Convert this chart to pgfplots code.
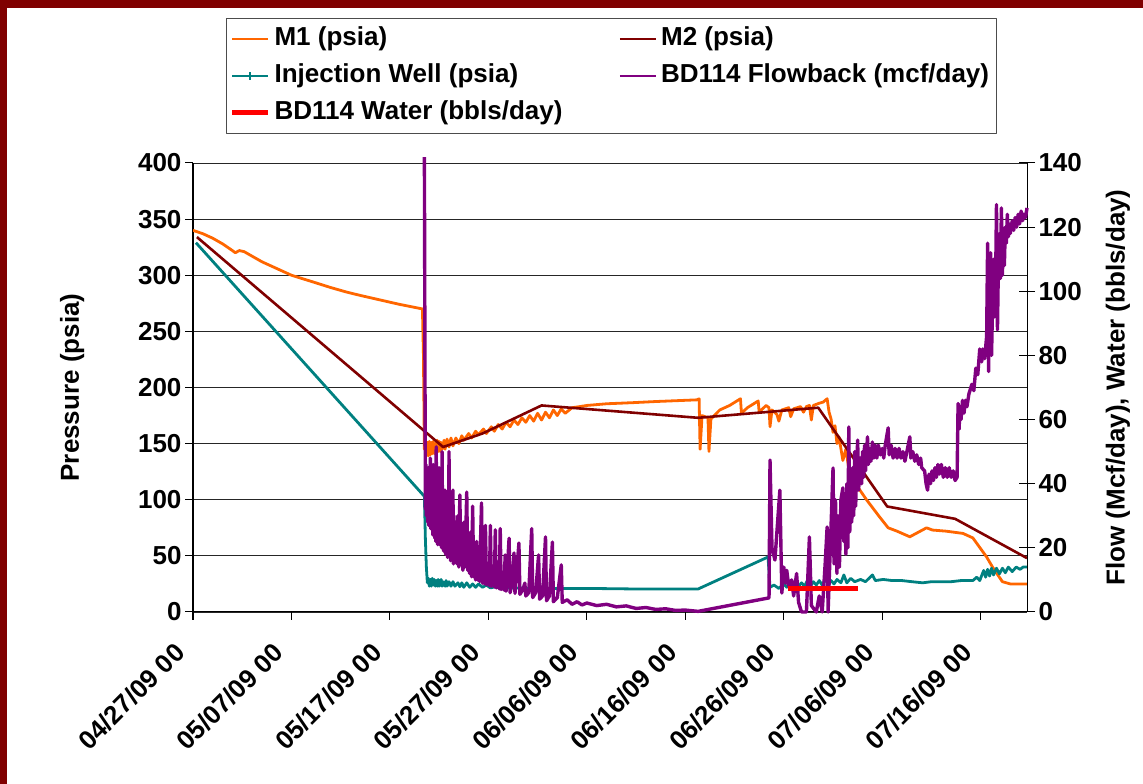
\documentclass[border=0pt]{standalone}
\usepackage{pgfplots}
\pgfplotsset{compat=1.18}
\usepackage{fontspec}
\setmainfont{Liberation Sans}
\definecolor{frameRed}{HTML}{800000}
\definecolor{cM1}{HTML}{FF6600}
\definecolor{cM2}{HTML}{800000}
\definecolor{cInj}{HTML}{008080}
\definecolor{cFlow}{HTML}{800080}
\definecolor{cWater}{HTML}{FF0000}
\newcommand{\bigbf}{\fontsize{26}{30}\selectfont\bfseries}
\begin{document}
\begin{tikzpicture}
\path[use as bounding box] (0,0) rectangle (1143pt,784pt);
\fill[frameRed] (0,776pt) rectangle (1143pt,784pt);
\fill[frameRed] (0,0) rectangle (7pt,784pt);
\pgfplotsset{
  common/.style={
    scale only axis, width=834pt, height=449pt,
    at={(193pt,172pt)}, anchor=south west,
    xmin=0, xmax=84.7,
    tick label style={font=\bigbf},
    /pgf/number format/assume math mode=true,
    axis line style={black, line width=1pt},
    major tick style={black, line width=1pt},
  }
}
\begin{axis}[common,
  ymin=0, ymax=400, ytick={0,50,...,400},
  axis x line*=bottom, axis y line*=left,
  tick align=outside, major tick length=8pt,
  xtick={0,10,...,80},
  xticklabels={04/27/09 00,05/07/09 00,05/17/09 00,05/27/09 00,06/06/09 00,06/16/09 00,06/26/09 00,07/06/09 00,07/16/09 00},
  xticklabel style={xshift=-13pt, yshift=-28pt, anchor=east, rotate=45, inner sep=0pt},
  ymajorgrids, grid style={black!85, line width=0.9pt},
  ylabel={Pressure (psia)},
  every axis y label/.style={at={(axis description cs:-0.145,0.5)}, rotate=90, anchor=center, font=\bigbf},
  line join=round,
]
% M1
\addplot[cM1, line width=2.8pt] coordinates {
(0,340)(1,337)(2,333)(3,328)(4,322)(4.3,320)(4.7,322)(5.2,321)(6,317)(7,312)(8.5,306)(10,300)(12.2,294)(14,289)(15.6,285)(17,282)(19,278)(21,274)(23.3,270)(23.4,230)(23.5,145)
(23.6,152)(23.7,140)(23.8,151)(23.9,139)(24.0,152)(24.1,140)(24.2,151)(24.3,141)(24.4,152)(24.5,141)(24.6,150)(24.7,142)(24.8,153)(24.9,143)(25.0,152)(25.1,143)(25.2,151)(25.3,145)(25.5,153)(25.6,145)(25.8,154)(26,147)(26.2,155)(26.4,148)(26.7,155)(27,150)
(27.3,157)(27.5,153)(28,159)(28.3,155)(28.7,161)(29,158)(29.5,163)(29.8,159)(30.3,165)(30.6,161)(31,167)(31.4,163)(31.8,169)(32.2,165)(32.6,171)(33,167)(33.4,173)(33.8,169)(34.2,175)(34.6,170)(35,177)(35.4,171)(35.8,178)(36.2,173)(36.6,180)(37,175)(37.4,181)(37.8,177)(38.5,182)(39.3,183)(40,184)(42,185.5)(44.7,186.5)(47,187.5)
(51.2,189)(51.4,190)(51.5,145)(51.7,175)(52.3,173)(52.4,143)(52.6,172)(53.5,180)(54.5,184)(55.6,190)(55.7,177)(56.3,182)(57.4,188)(57.5,178)(58.2,184)(58.5,182)(58.6,165)(58.8,180)(59.3,176)(59.5,170)(59.8,180)(60.5,182)(60.7,174)(61,181)(61.7,183)(62,178)(62.3,183)(62.6,184)(62.8,171)(63,184)(63.6,186)(64,187)(64.4,190)(64.6,178)(64.8,172)(65.0,160)(65.2,166)(65.4,150)(65.6,156)(66,135)(66.3,145)(66.6,128)(67,118)(68.4,100)(69.7,85)(70.6,75)(71.5,72)(72.8,67)(74.5,75)(75.1,73)(76.5,72)(78.2,70)(79.2,66)(80.6,49)(81.2,40)(82.2,27)(83,25)(84.7,25)
};
% M2
\addplot[cM2, line width=2.6pt] coordinates {
(0.4,334)(25.4,147)(29.4,159)(35.4,184)(51.3,173)(63.5,182)(70.5,94)(77.4,83)(84.7,48)
};
% Injection well
\addplot[cInj, line width=2.8pt] coordinates {
(0.3,329)(23.5,103)(23.6,65)(23.7,40)(23.8,26)(23.9,30)(24,23)(24.1,29)(24.2,23)(24.3,30)(24.4,24)(24.5,29)(24.6,23)(24.7,28)(24.8,23)(24.9,29)(25,23)(25.2,29)(25.3,23)(25.4,27)(25.6,23)(25.7,28)(25.8,23)(26,27)(26.2,23)(26.4,27)(26.6,23)(26.9,26)(27.1,22.5)(27.3,26)(27.5,22)(27.8,26)(28.1,22)(28.4,25)(28.7,22)(29,25)(29.4,22)(29.8,24)(30.2,21.5)(31,23)(32,21.5)(35,21)(40,21)(45,20.5)(51.3,20.5)
(58.4,49)(58.6,22)(59,24)(59.5,21)(60,25)(60.3,22)(60.6,27)(60.9,22)(61.2,27)(61.5,23)(61.8,26)(62.1,23)(62.4,28)(62.7,23)(63,27)(63.3,24)(63.6,28)(63.9,24)(64.2,29)(64.5,25)(64.8,28)(65.1,25)(65.4,29)(65.8,26)(66.1,33)(66.4,26)(66.8,30)(67.2,27)(67.8,29)(68.3,27)(69,33)(69.3,28)(70.1,29)(71,28)(72,28)(73,27)(74.1,26)(75,27)(76,27)(77,27)(78,28)(79.2,28)(79.6,31)(79.9,28)(80.3,37)(80.5,31)(80.7,38)(80.9,32)(81.1,39)(81.3,33)(81.6,39)(81.9,34)(82.2,39)(82.5,35)(82.8,40)(83.2,36)(83.6,40)(84,38)(84.3,40)(84.7,40)
};
\end{axis}
\begin{axis}[common,
  ymin=0, ymax=140, ytick={0,20,...,140},
  axis y line*=right, axis x line=none,
  tick align=center, major tick length=16pt,
  clip=false,
  ylabel={Flow (Mcf/day), Water (bbls/day)},
  every axis y label/.style={at={(axis description cs:1.109,0.5)}, rotate=90, anchor=center, font=\bigbf},
  line join=round,
  legend columns=2,
  legend cell align=left,
  legend style={at={(axis description cs:0.0396,1.323)}, anchor=north west,
    draw=black!70, line width=1pt, font=\bigbf, fill=white,
    inner xsep=3pt, inner ysep=2pt, column sep=0pt,
    nodes={inner xsep=4pt, inner ysep=6pt, text height=19pt, text depth=6pt},
    /tikz/every even column/.append style={column sep=52pt}},
]
\addlegendimage{legend image code/.code={\draw[cM1,line width=2.6pt](0pt,0pt)--(36pt,0pt);}}
\addlegendentry{M1 (psia)}
\addlegendimage{legend image code/.code={\draw[cM2,line width=2.6pt](0pt,0pt)--(36pt,0pt);}}
\addlegendentry{M2 (psia)}
\addlegendimage{legend image code/.code={\draw[cInj,line width=2.6pt](0pt,0pt)--(36pt,0pt);\draw[cInj,line width=1.2pt](18pt,-4pt)--(18pt,4pt);}}
\addlegendentry{Injection Well (psia)}
\addlegendimage{legend image code/.code={\draw[cFlow,line width=2.6pt](0pt,0pt)--(36pt,0pt);}}
\addlegendentry{BD114 Flowback (mcf/day)}
\addlegendimage{legend image code/.code={\draw[cWater,line width=5pt](0pt,0pt)--(36pt,0pt);}}
\addlegendentry{BD114 Water (bbls/day)}
% Flowback
\addplot[cFlow, line width=3.4pt, forget plot] coordinates {
(23.5,141.8)(23.55,85)(23.6,32)(23.65,46)(23.7,30)(23.8,42)(23.85,28)(23.9,45)(23.95,27)(24.0,40)(24.05,30)(24.1,48)(24.15,26)(24.2,44)(24.25,28)(24.3,41)(24.35,24)(24.4,46)(24.45,25)(24.5,40)(24.55,23)(24.6,44)(24.65,22)(24.7,51.5)(24.75,24)(24.8,42)(24.85,21)(24.9,40)(24.95,23)(25.0,45)(25.05,21)(25.1,38)(25.15,22)(25.2,42)(25.25,20)(25.3,50)(25.35,21)(25.4,34)(25.45,19)(25.5,33)(25.55,21)(25.6,38)(25.65,18)(25.7,30)(25.75,20)(25.8,36)(25.85,17)(25.9,33)(25.95,19)(26.0,50)(26.05,17)(26.1,30)(26.15,16)(26.2,34)(26.3,17)(26.4,38)(26.45,15)(26.5,30)(26.6,16)(26.7,28)(26.8,15)(26.9,30)(27.0,14)(27.1,36.5)(27.2,15)(27.3,26)(27.4,13)(27.5,28)(27.6,14)(27.7,24)(27.8,37.4)(27.9,13)(28.0,22)(28.1,12)(28.2,25)(28.3,11)(28.4,33)(28.5,11)(28.6,20)(28.7,10)(28.8,22)(28.9,10)(29.0,18)(29.1,9.5)(29.3,34)(29.4,9)(29.5,16)(29.6,8.8)(29.7,27)(29.8,8.5)(30.0,15)(30.1,8.2)(30.2,27)(30.3,8)(30.5,13)(30.6,7.8)(30.7,25.6)(30.8,7.5)(31.0,12)(31.1,7.2)(31.2,26)(31.3,7)(31.5,11)(31.6,6.8)(31.7,17.8)(31.8,6.5)(32.1,23)(32.2,6)(32.4,9)(32.6,18.4)(32.7,5.8)(33.1,21.5)(33.2,5.5)(33.5,7)(33.7,9)(33.8,5)(34.1,6)(34.4,26)(34.5,4.5)(34.8,6)(35.1,17.8)(35.2,4)(35.5,5)(35.8,23.4)(35.9,3.5)(36.2,5)(36.5,21.8)(36.6,3.2)(37.0,4.5)(37.4,14.7)(37.5,3)(38,3.8)(38.5,2.4)(39,3.2)(39.5,2.2)(40,2.8)(41,2.0)(42,2.4)(43,1.6)(44,1.9)(45,1.1)(46,1.4)(47,0.8)(48,1.0)(49,0.5)(50,0.6)(51.3,0.2)
(58.5,4.4)(58.6,47.4)(58.8,20)(59.1,16.2)(59.6,38)(59.8,5.9)(60.0,14)(60.2,9)(60.3,13)(60.5,8)(60.8,10)(61.0,5)(61.3,12)(61.5,3)(61.8,0)(62.3,0)(62.6,23.4)(62.8,2)(63.3,0)(63.6,5)(63.9,0)(64.2,15)(64.4,26.5)(64.5,0)(65.0,44.9)(65.1,15)(65.25,35)(65.4,12)(65.5,30)(65.65,14)(65.8,35)(66.0,38.7)(66.1,22)(66.2,36)(66.3,18)(66.4,40)(66.5,20)(66.6,57.7)(66.7,25)(66.8,40)(66.9,28)(67.0,45)(67.1,30)(67.2,50)(67.3,33)(67.4,45)(67.5,53.6)(67.6,38)(67.75,48)(67.9,40)(68.0,50)(68.1,42)(68.2,52)(68.3,44)(68.5,54.6)(68.6,46)(68.7,51)(68.85,47)(69.0,53)(69.15,48)(69.3,52)(69.45,48)(69.6,52)(69.8,49)(70.0,51)(70.15,48)(70.3,52)(70.6,57.4)(70.7,49)(70.9,52)(71.1,48)(71.3,51)(71.5,48)(71.7,51)(71.9,48)(72.1,50)(72.3,47)(72.5,50)(72.8,54.6)(72.9,48)(73.1,50)(73.3,47)(73.5,49)(73.7,46)(73.9,48)(74.0,45)(74.3,44)(74.45,40)(74.6,38)(74.75,43)(74.9,40)(75.05,44)(75.2,41)(75.35,45)(75.5,42)(75.65,46)(75.8,43)(76.0,46)(76.2,42)(76.4,45)(76.6,42)(76.8,45)(77.0,42)(77.2,44)(77.4,41)(77.6,42)(77.7,65)(77.8,57)(77.9,64)(78.0,60)(78.15,66)(78.3,62)(78.45,66)(78.6,64)(78.8,68)(79.1,71)(79.3,69)(79.5,76)(79.7,74)(79.9,82)(80.1,78)(80.2,82)(80.4,79)(80.6,86)(80.7,115)(80.8,75)(80.9,100)(81.0,112)(81.1,80)(81.2,96)(81.3,110)(81.4,92)(81.5,100)(81.6,127)(81.7,88)(81.8,110)(81.9,118)(82.0,104)(82.1,126)(82.2,105)(82.3,118)(82.4,108)(82.5,120)(82.6,115)(82.7,124)(82.8,117)(82.9,121)(83.0,118)(83.2,122)(83.35,119)(83.5,123)(83.65,120)(83.8,124)(83.95,121)(84.1,125)(84.25,122)(84.4,124)(84.55,123)(84.7,126)
};
% Water
\addplot[cWater, line width=4.5pt, forget plot] coordinates {(60.4,7.3)(67.5,7.3)};
\end{axis}
\end{tikzpicture}
\end{document}
